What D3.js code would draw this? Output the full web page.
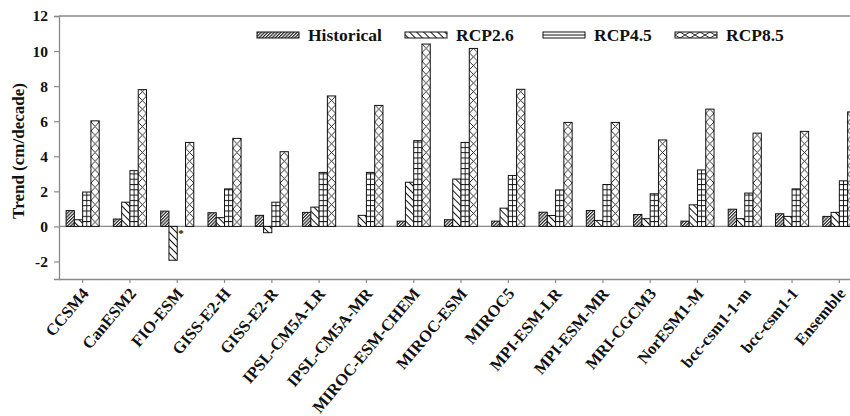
<!DOCTYPE html>
<html>
<head>
<meta charset="utf-8">
<script src="https://cdn.jsdelivr.net/npm/d3@7"></script>
<style>
  html, body { margin: 0; padding: 0; background: #fff; }
  svg { display: block; }
  text { font-family: "Liberation Serif", "Times New Roman", serif; font-weight: bold; fill: #111; }
</style>
</head>
<body>
<svg id="chart" width="850" height="416"></svg>
<script>
const categories = ["CCSM4", "CanESM2", "FIO-ESM", "GISS-E2-H", "GISS-E2-R", "IPSL-CM5A-LR", "IPSL-CM5A-MR",
  "MIROC-ESM-CHEM", "MIROC-ESM", "MIROC5", "MPI-ESM-LR", "MPI-ESM-MR", "MRI-CGCM3", "NorESM1-M",
  "bcc-csm1-1-m", "bcc-csm1-1", "Ensemble"];
const seriesNames = ["Historical", "RCP2.6", "RCP4.5", "RCP8.5"];
const historical = [0.9, 0.42, 0.87, 0.78, 0.63, 0.8, null, 0.3, 0.38, 0.3, 0.81, 0.91, 0.68, 0.3, 0.98, 0.72, 0.57];
const rcp26 = [0.38, 1.38, -1.93, 0.5, -0.36, 1.1, 0.63, 2.52, 2.7, 1.04, 0.62, 0.34, 0.44, 1.23, 0.44, 0.57, 0.8];
const rcp45 = [1.96, 3.18, null, 2.14, 1.38, 3.08, 3.08, 4.89, 4.79, 2.9, 2.08, 2.39, 1.86, 3.22, 1.9, 2.14, 2.6];
const rcp85 = [6.02, 7.8, 4.79, 5.02, 4.26, 7.44, 6.9, 10.4, 10.15, 7.82, 5.93, 5.93, 4.93, 6.69, 5.32, 5.42, 6.53];
const yTicks = [-2, 0, 2, 4, 6, 8, 10, 12];
const starred = [{category: "FIO-ESM", series: "RCP2.6"}];

const seriesValues = [historical, rcp26, rcp45, rcp85];

const svg = d3.select("#chart");
const mLeft = 59, mRight = 863, mTop = 16, mBottom = 279;

const x = d3.scaleBand().domain(categories).range([mLeft, mRight]).paddingInner(0.3).paddingOuter(0.15);
const xs = d3.scaleBand().domain(seriesNames).range([0, x.bandwidth()]);
const y = d3.scaleLinear().domain([-3, 12]).range([mBottom, mTop]);
const bw = xs.bandwidth();

const defs = svg.append("defs");
// Historical: dense forward hatch
const pH = defs.append("pattern").attr("id", "pHist").attr("patternUnits", "userSpaceOnUse")
  .attr("width", 2.3).attr("height", 2.3).attr("patternTransform", "rotate(45)");
pH.append("rect").attr("width", 2.3).attr("height", 2.3).attr("fill", "#fff");
pH.append("line").attr("x1", 0.6).attr("y1", 0).attr("x2", 0.6).attr("y2", 2.3).attr("stroke", "#222").attr("stroke-width", 1.2);
// RCP2.6: backslash hatch
const p26 = defs.append("pattern").attr("id", "p26").attr("patternUnits", "userSpaceOnUse")
  .attr("width", 5).attr("height", 5).attr("patternTransform", "rotate(-45)");
p26.append("rect").attr("width", 5).attr("height", 5).attr("fill", "#fff");
p26.append("line").attr("x1", 0.5).attr("y1", 0).attr("x2", 0.5).attr("y2", 5).attr("stroke", "#111").attr("stroke-width", 1);

// per-bar patterns for RCP4.5 (grid) and RCP8.5 (diamond cross), aligned to each bar
const barX = (cat, s) => x(cat) + xs(s);
defs.selectAll("pattern.p45").data(categories).join("pattern").attr("class", "p45")
  .attr("id", (d, i) => "p45-" + i).attr("patternUnits", "userSpaceOnUse")
  .attr("x", d => barX(d, "RCP4.5")).attr("y", y(0)).attr("width", bw).attr("height", 5.3)
  .each(function() {
    const p = d3.select(this);
    p.append("rect").attr("width", bw).attr("height", 5.3).attr("fill", "#fff");
    p.append("line").attr("x1", 0).attr("x2", bw).attr("y1", 0.5).attr("y2", 0.5).attr("stroke", "#111").attr("stroke-width", 1);
    p.append("line").attr("x1", bw / 2).attr("x2", bw / 2).attr("y1", 0).attr("y2", 5.3).attr("stroke", "#111").attr("stroke-width", 0.9);
  });
defs.selectAll("pattern.p85").data(categories).join("pattern").attr("class", "p85")
  .attr("id", (d, i) => "p85-" + i).attr("patternUnits", "userSpaceOnUse")
  .attr("x", d => barX(d, "RCP8.5")).attr("y", y(0)).attr("width", bw).attr("height", bw * 1.05)
  .each(function() {
    const p = d3.select(this);
    const h = bw * 1.05;
    p.append("rect").attr("width", bw).attr("height", h).attr("fill", "#fff");
    p.append("path").attr("d", `M0,0L${bw},${h}M${bw},0L0,${h}`).attr("stroke", "#111").attr("stroke-width", 0.9).attr("fill", "none");
  });
// legend patterns
const lp45 = defs.append("pattern").attr("id", "lp45").attr("patternUnits", "userSpaceOnUse")
  .attr("width", 10).attr("height", 6).attr("y", 32);
lp45.append("rect").attr("width", 10).attr("height", 6).attr("fill", "#fff");
lp45.append("line").attr("x1", 0).attr("x2", 10).attr("y1", 3).attr("y2", 3).attr("stroke", "#111").attr("stroke-width", 1);
const lp85 = defs.append("pattern").attr("id", "lp85").attr("patternUnits", "userSpaceOnUse")
  .attr("width", 10).attr("height", 6).attr("y", 32).attr("x", 675);
lp85.append("rect").attr("width", 10).attr("height", 6).attr("fill", "#fff");
lp85.append("path").attr("d", "M0,0L10,6M10,0L0,6").attr("stroke", "#111").attr("stroke-width", 0.9).attr("fill", "none");

const fillFor = (s, i) => s === "Historical" ? "url(#pHist)" : s === "RCP2.6" ? "url(#p26)" :
  s === "RCP4.5" ? `url(#p45-${i})` : `url(#p85-${i})`;

// zero line
svg.append("line").attr("x1", mLeft).attr("x2", 850).attr("y1", y(0)).attr("y2", y(0))
  .attr("stroke", "#8a8a8a").attr("stroke-width", 1.2);

// bars
const barData = [];
categories.forEach((c, i) => seriesNames.forEach((s, j) => {
  const v = seriesValues[j][i];
  if (v !== null && v !== undefined) barData.push({c, i, s, v});
}));
svg.append("g").selectAll("rect").data(barData).join("rect")
  .attr("x", d => barX(d.c, d.s))
  .attr("width", bw)
  .attr("y", d => y(Math.max(0, d.v)))
  .attr("height", d => Math.abs(y(d.v) - y(0)))
  .attr("fill", d => fillFor(d.s, d.i))
  .attr("stroke", "#111").attr("stroke-width", 1);

// stars
svg.append("g").selectAll("text").data(starred).join("text")
  .attr("x", d => barX(d.category, d.series) + bw + 1)
  .attr("y", d => y(0) + 11)
  .attr("font-size", 11).text("*");

// axes
const axColor = "#8a8a8a";
const yAxis = svg.append("g").attr("transform", `translate(${mLeft},0)`)
  .call(d3.axisLeft(y).tickValues(yTicks).tickSize(5).tickPadding(6).tickFormat(d => String(d)));
yAxis.selectAll("text").attr("font-size", 15.5).attr("font-family", "Liberation Serif, serif").attr("font-weight", "bold").attr("fill", "#111");
const xAxis = svg.append("g").attr("transform", `translate(0,${mBottom})`)
  .call(d3.axisBottom(x).tickSize(4).tickSizeOuter(0).tickFormat(""));
[yAxis, xAxis].forEach(g => {
  g.select(".domain").attr("stroke", axColor).attr("stroke-width", 1.3);
  g.selectAll(".tick line").attr("stroke", axColor).attr("stroke-width", 1.2);
});
xAxis.select(".domain").attr("d", `M${mLeft},0.5H850`);
// top frame line
svg.append("line").attr("x1", mLeft).attr("x2", 850).attr("y1", mTop).attr("y2", mTop)
  .attr("stroke", axColor).attr("stroke-width", 1.3);

// x labels
svg.append("g").selectAll("text").data(categories).join("text")
  .attr("transform", d => `translate(${x(d) + x.bandwidth() / 2 + 7},${mBottom + 15}) rotate(-50)`)
  .attr("text-anchor", "end").attr("font-size", 16.5).text(d => d);

// y title
svg.append("text").attr("transform", `translate(24,151) rotate(-90)`)
  .attr("text-anchor", "middle").attr("font-size", 17).text("Trend (cm/decade)");

// legend
const legendX = [257, 405, 543, 675];
const legendFill = ["url(#pHist)", "url(#p26)", "url(#lp45)", "url(#lp85)"];
const lg = svg.append("g").selectAll("g").data(seriesNames).join("g")
  .attr("transform", (d, i) => `translate(${legendX[i]},0)`);
lg.append("rect").attr("x", 0).attr("y", 32).attr("width", 42).attr("height", 6)
  .attr("fill", (d, i) => legendFill[i]).attr("stroke", "#111").attr("stroke-width", 1);
lg.append("text").attr("x", 51).attr("y", 40.5).attr("font-size", 17.5).text(d => d);
</script>
</body>
</html>
